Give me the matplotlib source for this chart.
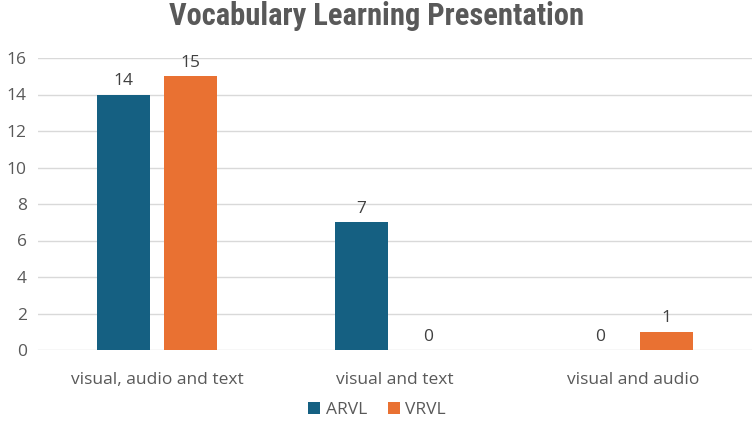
import numpy as np
import matplotlib.pyplot as plt

categories = ['visual, audio and text', 'visual and text', 'visual and audio']
arvl = [14, 7, 0]
vrvl = [15, 0, 1]
series_names = ['ARVL', 'VRVL']
colors = ['#156082', '#E97132']
grey = '#595959'

plt.rcParams['font.family'] = ['Open Sans', 'DejaVu Sans']

fig = plt.figure(figsize=(7.54, 4.29), dpi=100)
ax = fig.add_axes([38 / 754, 79 / 429, 714 / 754, 292 / 429])

x = np.arange(len(categories))
w = 0.225
gap = 0.055
for i, (vals, name) in enumerate(zip([arvl, vrvl], series_names)):
    off = (i - 0.5) * (w + gap)
    bars = ax.bar(x + off, vals, w, color=colors[i], label=name, zorder=3)
    for b, v in zip(bars, vals):
        ax.text(b.get_x() + b.get_width() / 2, v + 0.3, str(v), ha='center', va='bottom',
                fontsize=12.5, color='#404040')

ax.set_xlim(-0.5, len(categories) - 0.5)
ax.set_ylim(0, 16)
ax.set_yticks(range(0, 17, 2))
ax.set_xticks(x)
ax.set_xticklabels(categories)
ax.grid(axis='y', color='#d9d9d9', linewidth=1, zorder=0)
for s in ax.spines.values():
    s.set_visible(False)
ax.tick_params(length=0, labelsize=12.5, colors=grey, pad=8)
ax.tick_params(axis='x', pad=16)

fig.text(0.5, 0.962, 'Vocabulary Learning Presentation', ha='center', va='center',
         fontsize=22, fontweight='bold', color=grey,
         family=['Roboto Condensed', 'Roboto', 'DejaVu Sans'])

leg = fig.legend(loc='center', bbox_to_anchor=(0.5, 0.045), ncol=2, frameon=False,
                 fontsize=12.5, handlelength=0.7, handleheight=0.7, handletextpad=0.3,
                 columnspacing=1.2)
for t in leg.get_texts():
    t.set_color(grey)

fig.savefig('out.png', dpi=100)
